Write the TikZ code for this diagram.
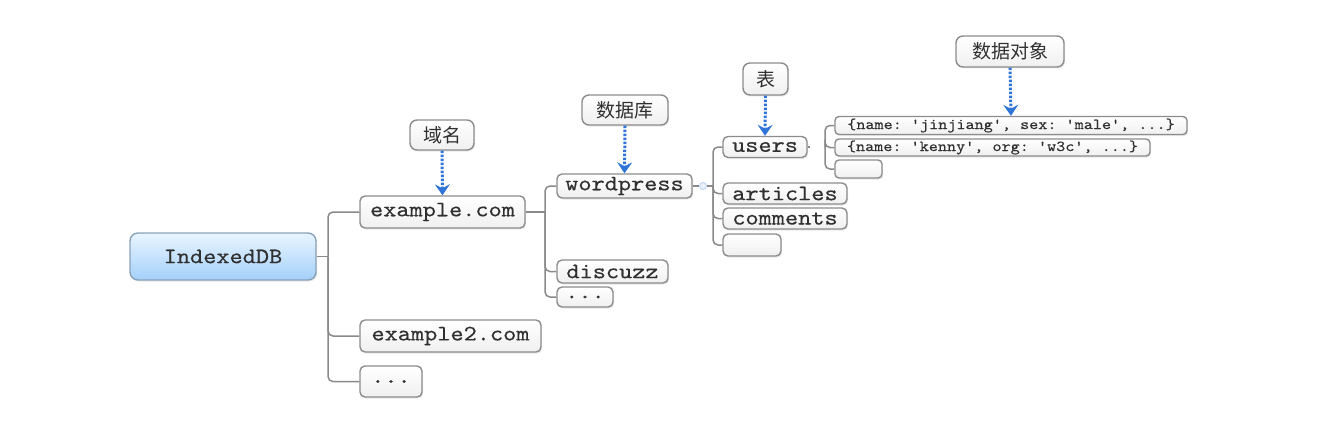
\documentclass[tikz,border=0pt]{standalone}
\usepackage{fontspec}
\setmonofont{lmmono10-regular.otf}[FakeStretch=1.14, FakeBold=0.35]
\newfontfamily\cjk{Noto Sans CJK SC}
\usetikzlibrary{shadows,arrows.meta,calc}
\definecolor{boxline}{HTML}{8C8C8C}
\definecolor{txt}{HTML}{303030}
\definecolor{conn}{HTML}{8A8A8A}
\definecolor{arrowblue}{HTML}{2F74D6}
\definecolor{idbtop}{HTML}{EAF5FF}
\definecolor{idbbot}{HTML}{A3D0FA}
\definecolor{idbline}{HTML}{8AA2B8}
\tikzset{
  box/.style={draw=boxline, line width=1.4pt, rounded corners=5pt,
    top color=white, bottom color=black!6, text=txt, inner sep=0pt,
    font=\ttfamily\fontsize{22}{22}\selectfont,
    drop shadow={opacity=0.18, shadow xshift=1.2pt, shadow yshift=-1.5pt}},
  objbox/.style={box, rounded corners=4pt, font=\ttfamily\fontsize{15.2}{16}\selectfont},
  label/.style={box, rounded corners=7pt, font=\cjk\fontsize{19}{20}\selectfont},
  rootbox/.style={box, draw=idbline, rounded corners=8pt, top color=idbtop, bottom color=idbbot},
  connector/.style={draw=conn, line width=1.5pt, rounded corners=5pt},
  pointer/.style={draw=arrowblue, line width=3pt, dash pattern=on 2.4pt off 1.6pt,
    -{Stealth[length=11pt,width=15pt,inset=4pt]}}
}
\begin{document}
\begin{tikzpicture}[x=1pt,y=-1pt]
\useasboundingbox (0,0) rectangle (1318,428);
% level 0
\node[rootbox, minimum width=186pt, minimum height=47pt] (idb) at (223,256.5) {IndexedDB};
% level 1
\node[box, minimum width=165pt, minimum height=32pt] (ex) at (442.5,212) {example.com};
\node[box, minimum width=181pt, minimum height=32pt] (ex2) at (450.5,336) {example2.com};
\node[box, minimum width=62pt, minimum height=31pt] (exd) at (391,381.5) {...};
\node[label, minimum width=64pt, minimum height=30pt] (yu) at (442,135) {域名};
% level 2
\node[box, minimum width=135pt, minimum height=24pt] (wp) at (624.5,186) {wordpress};
\node[box, minimum width=111pt, minimum height=23pt] (dz) at (612.5,271.5) {discuzz};
\node[box, minimum width=56pt, minimum height=20pt] (dbd) at (585,297) {...};
\node[label, minimum width=86pt, minimum height=30pt] (sjk) at (625,110) {数据库};
% level 3
\node[box, minimum width=84pt, minimum height=21pt] (us) at (765,147) {users};
\node[box, minimum width=124pt, minimum height=21pt] (ar) at (785,193.5) {articles};
\node[box, minimum width=124pt, minimum height=21pt] (co) at (785,218.5) {comments};
\node[box, minimum width=58pt, minimum height=22pt] (te) at (752,245) {};
\node[label, minimum width=45pt, minimum height=32pt] (biao) at (765.5,79) {表};
% level 4
\node[objbox, minimum width=352pt, minimum height=18pt] (o1) at (1011,125.5) {\{name: 'jinjiang', sex: 'male', ...\}};
\node[objbox, minimum width=315pt, minimum height=17pt] (o2) at (992.5,147.5) {\{name: 'kenny', org: 'w3c', ...\}};
\node[objbox, minimum width=47pt, minimum height=18pt] (oe) at (858.5,169) {};
\node[label, minimum width=108pt, minimum height=31pt] (sjdx) at (1010,51.5) {数据对象};

% connectors level 0 -> 1
\coordinate (j1) at (328,256.5);
\draw[connector] (idb.east) -- (j1);
\draw[connector] (j1) |- (ex.west);
\draw[connector] (j1) |- (ex2.west);
\draw[connector] (j1) |- (exd.west);
% level 1 -> 2
\coordinate (j2) at (545,212);
\draw[connector] (ex.east) -- (j2);
\draw[connector] (j2) |- (wp.west);
\draw[connector] (j2) |- (dz.west);
\draw[connector] (j2) |- (dbd.west);
% level 2 -> 3
\coordinate (j3) at (713,186);
\node[circle, draw=arrowblue!35, fill=arrowblue!10, line width=0.8pt, minimum size=7pt, inner sep=0pt] (knob) at (703,186) {};
\draw[connector] (wp.east) -- (knob.west);
\draw[connector] (knob.east) -- (j3);
\draw[connector] (j3) |- (us.west);
\draw[connector] (j3) |- (ar.west);
\draw[connector] (j3) |- (co.west);
\draw[connector] (j3) |- (te.west);
% level 3 -> 4
\coordinate (j4) at (825,147);
\coordinate (ustub) at (810,147);
\draw[connector] (us.east) -- (ustub);
\draw[connector] (j4) |- (o1.west);
\draw[connector] (j4) |- (o2.west);
\draw[connector] (j4) |- (oe.west);

% pointers
\draw[pointer] (yu.south) -- (ex.north);
\draw[pointer] (sjk.south) -- (wp.north);
\draw[pointer] (biao.south) -- (us.north);
\draw[pointer] (sjdx.south) -- (o1.north);
\end{tikzpicture}
\end{document}
